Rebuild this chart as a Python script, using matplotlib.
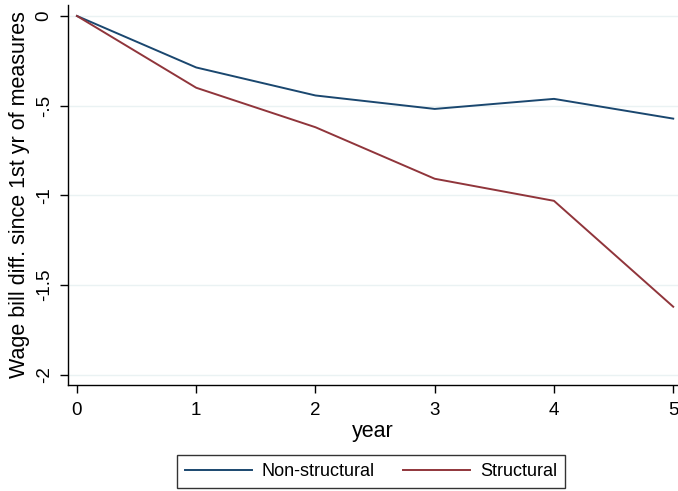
import matplotlib
matplotlib.use('Agg')
import matplotlib.pyplot as plt

plt.rcParams['font.family'] = ['Liberation Sans', 'DejaVu Sans']

years = [0, 1, 2, 3, 4, 5]
non_structural = [0, -0.287, -0.443, -0.518, -0.462, -0.572]
structural = [0, -0.40, -0.62, -0.907, -1.03, -1.62]
yticks = [0, -0.5, -1, -1.5, -2]
ytick_labels = ['0', '-.5', '-1', '-1.5', '-2']

fig = plt.figure(figsize=(6.78, 4.91), dpi=100)
ax = fig.add_axes([68/678, 1 - 385/491, 610/678, 380/491])

ax.plot(years, non_structural, color='#1a476f', linewidth=1.4, label='Non-structural')
ax.plot(years, structural, color='#90353b', linewidth=1.4, label='Structural')

ax.set_xlim(-0.075, 5.04)
ax.set_ylim(-2.056, 0.061)
ax.set_xticks(years)
ax.set_yticks(yticks)
ax.set_yticklabels(ytick_labels, rotation=90, va='center')
ax.tick_params(labelsize=13.5, length=6, width=1, color='black')
ax.tick_params(axis='x', pad=6)
ax.tick_params(axis='y', pad=5)
for lab in ax.get_yticklabels():
    lab.set_va('center')
ax.grid(axis='y', color='#eaf2f3', linewidth=1)
ax.set_axisbelow(True)
ax.spines['right'].set_visible(False)
ax.spines['top'].set_visible(False)
ax.spines['left'].set_linewidth(1)
ax.spines['bottom'].set_linewidth(1)

ax.set_xlabel('year', fontsize=15.5, labelpad=2)
ax.set_ylabel('Wage bill diff. since 1st yr of measures', fontsize=15.5, labelpad=4)

leg = fig.legend(loc='center', bbox_to_anchor=(371/678, 1 - 471.5/491), ncol=2,
                 fontsize=13, frameon=True, fancybox=False, edgecolor='black',
                 handlelength=3.7, handletextpad=0.55, columnspacing=1.55,
                 borderpad=0.45, borderaxespad=0)
leg.get_frame().set_linewidth(1)

fig.savefig('out.png', dpi=100)
